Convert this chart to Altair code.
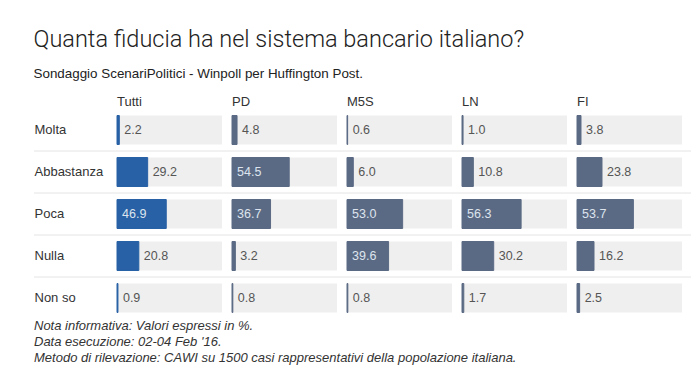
import altair as alt
import pandas as pd

rows = ["Molta", "Abbastanza", "Poca", "Nulla", "Non so"]
groups = ["Tutti", "PD", "M5S", "LN", "FI"]
tutti = [2.2, 29.2, 46.9, 20.8, 0.9]
pd_vals = [4.8, 54.5, 36.7, 3.2, 0.8]
m5s = [0.6, 6.0, 53.0, 39.6, 0.8]
ln = [1.0, 10.8, 56.3, 30.2, 1.7]
fi = [3.8, 23.8, 53.7, 16.2, 2.5]
series = [tutti, pd_vals, m5s, ln, fi]
colors = ["#2861a5", "#5b6a84", "#5b6a84", "#5b6a84", "#5b6a84"]

title = "Quanta fiducia ha nel sistema bancario italiano?"
subtitle = "Sondaggio ScenariPolitici - Winpoll per Huffington Post."
footer = [
    "Nota informativa: Valori espressi in %.",
    "Data esecuzione: 02-04 Feb '16.",
    "Metodo di rilevazione: CAWI su 1500 casi rappresentativi della popolazione italiana.",
]

records = []
for g, vals in zip(groups, series):
    for r, v in zip(rows, vals):
        records.append({"group": g, "row": r, "value": v})
df = pd.DataFrame(records)

FONT = "Liberation Sans"
BAND = alt.RelativeBandSize(0.69)


def panel(i, g):
    base = alt.Chart(df).transform_filter(alt.datum.group == g).transform_calculate(
        full="100", zero="0"
    )
    yscale = alt.Scale(domain=rows, paddingInner=0, paddingOuter=0)
    if i == 0:
        yaxis = alt.Axis(title=None, domain=False, ticks=False, labelAlign="left",
                         labelPadding=83, labelFontSize=13, labelColor="#333333",
                         labelFont=FONT, labelBaseline="middle")
    else:
        yaxis = None
    xscale = alt.Scale(domain=[0, 100], nice=False)
    y = alt.Y("row:N", sort=rows, scale=yscale, axis=yaxis)
    bg = base.mark_bar(color="#efefef", height=BAND).encode(
        x=alt.X("full:Q", scale=xscale, axis=None, stack=None), y=y
    )
    bar = base.mark_bar(color=colors[i], height=BAND, stroke=colors[i], strokeWidth=1).encode(
        x=alt.X("value:Q", scale=xscale, axis=None, stack=None), y=y
    )
    out_txt = base.transform_filter(alt.datum.value < 35).mark_text(
        align="left", dx=5, fontSize=12.5, font=FONT, color="#555555"
    ).encode(x=alt.X("value:Q", scale=xscale, axis=None), y=y,
             text=alt.Text("value:Q", format=".1f"))
    in_txt = base.transform_filter(alt.datum.value >= 35).mark_text(
        align="left", dx=5, fontSize=12.5, font=FONT, color="#dde4ee"
    ).encode(x=alt.X("zero:Q", scale=xscale, axis=None), y=y,
             text=alt.Text("value:Q", format=".1f"))
    layers = [bg, bar, out_txt, in_txt]
    if i == 0:
        sep = base.transform_filter(alt.datum.row != rows[0]).mark_rule(
            color="#e4e4e4", strokeWidth=1
        ).encode(
            y=alt.Y("row:N", sort=rows, scale=yscale, bandPosition=0),
            x=alt.value(-83), x2=alt.value(574),
        )
        foot = alt.Chart(alt.Data(values=[{"t": "\n".join(footer)}])).mark_text(
            align="left", baseline="top", lineBreak="\n", lineHeight=16,
            fontStyle="italic", fontSize=13, font=FONT, color="#333333"
        ).encode(text="t:N", x=alt.value(-83), y=alt.value(211))
        layers = [sep] + layers + [foot]
    return alt.layer(*layers).properties(
        width=105, height=210,
        title=alt.TitleParams(g, anchor="start", frame="group", fontSize=13,
                              fontWeight="normal", color="#333333", font=FONT,
                              offset=0),
    )


chart = alt.hconcat(*[panel(i, g) for i, g in enumerate(groups)], spacing=10,
                    bounds="flush").properties(
    title=alt.TitleParams(title, subtitle=subtitle, anchor="start", fontSize=23.5,
                          font="Roboto", fontWeight=300, color="#222222",
                          subtitleFont=FONT, subtitleFontSize=13.4, subtitleColor="#222222",
                          subtitlePadding=15, offset=16),
    padding={"left": 25, "top": 20, "right": 0, "bottom": 0},
).configure(background="white").configure_view(strokeWidth=0, stroke="transparent")

chart.save("out.html", embed_options={"renderer": "svg", "actions": False})
